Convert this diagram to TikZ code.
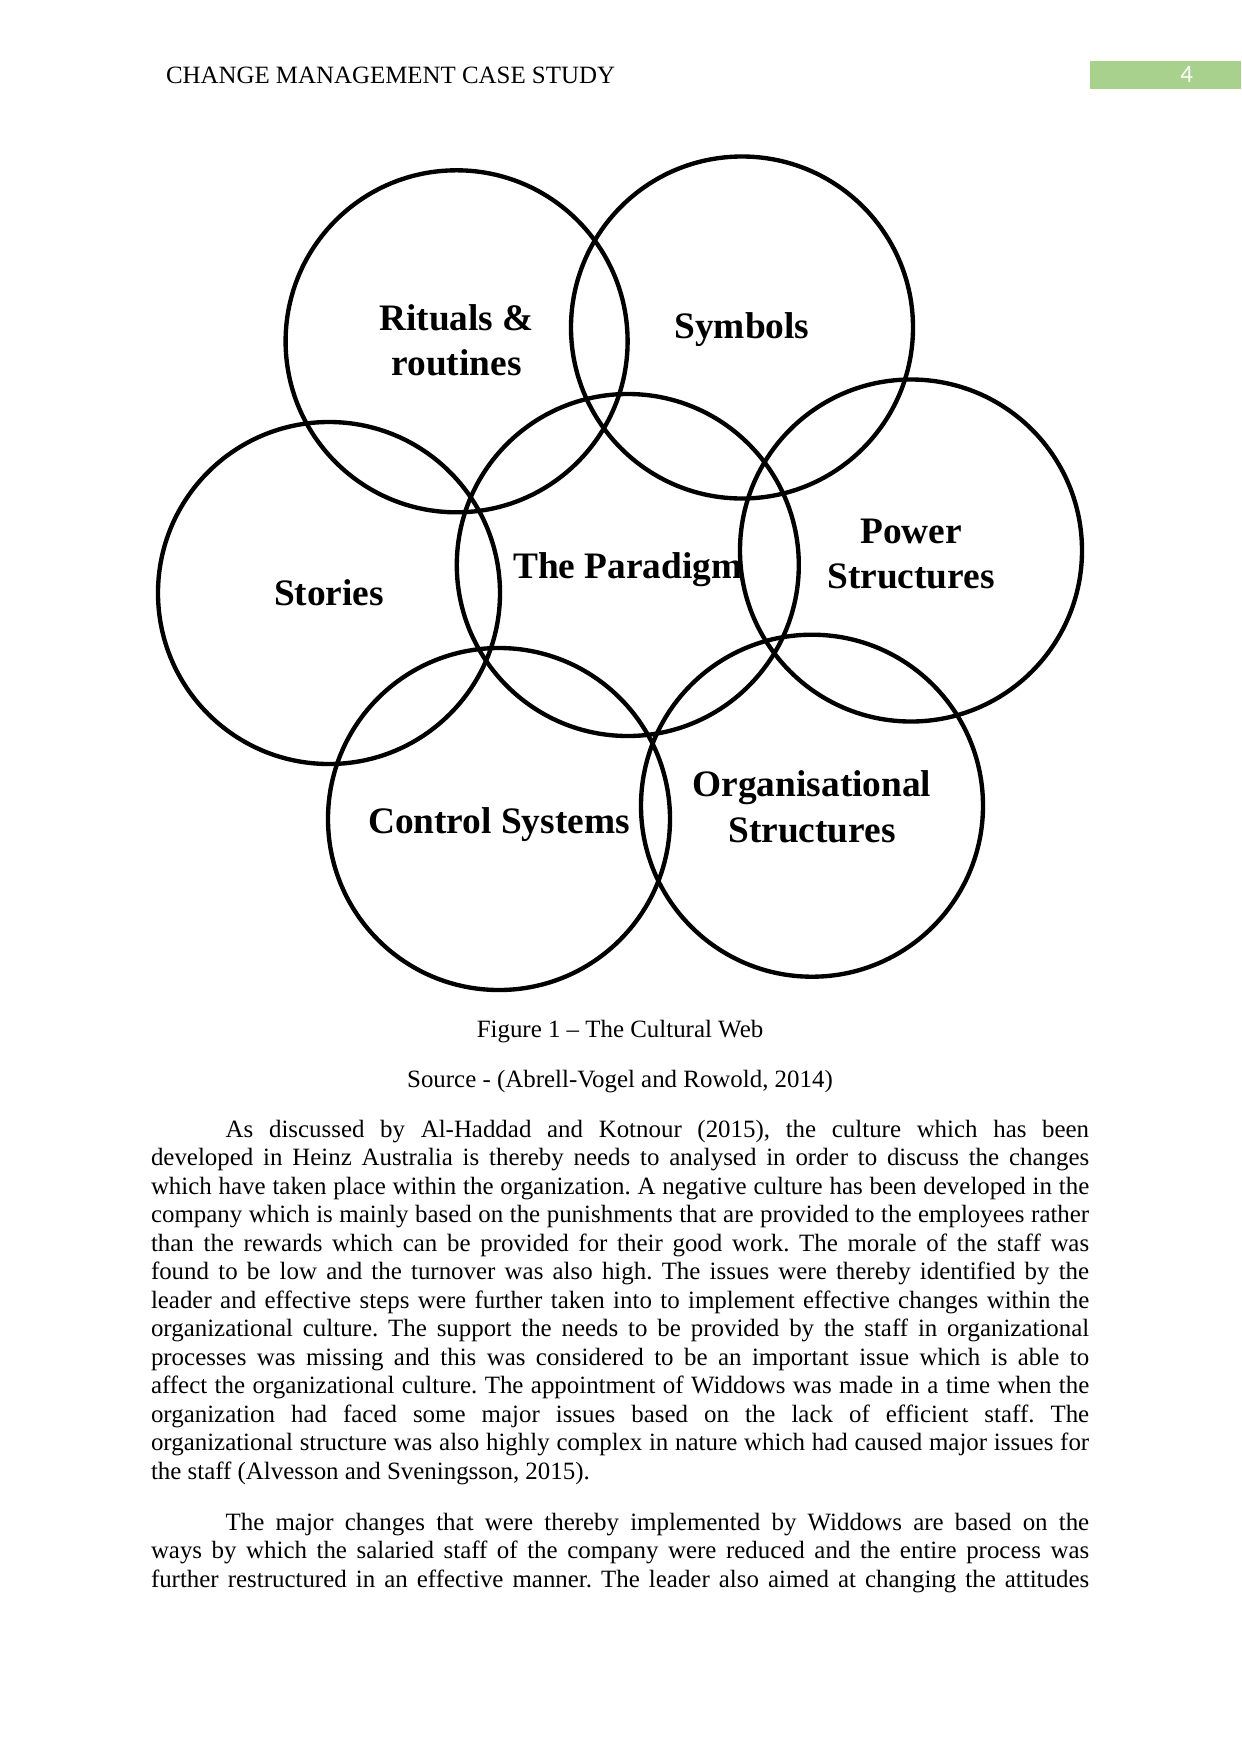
\documentclass[tikz,border=0pt]{standalone}
\usepackage{fontspec}
\setmainfont{Liberation Serif}
\newfontfamily\calib{Carlito}
\definecolor{hdrgreen}{HTML}{A9D18E}
\tikzset{
  web/.style={circle, draw=black, line width=2.1pt, minimum size=164.16bp, inner sep=0pt},
  lbl/.style={inner sep=0pt, align=center, font=\fontsize{18}{22}\selectfont\bfseries},
  txt/.style={inner sep=0pt, outer sep=0pt, font=\fontsize{12}{13.75}\selectfont}
}
\begin{document}
\begin{tikzpicture}[x=0.48bp, y=-0.48bp]
\useasboundingbox (0,0) rectangle (1241,1754);
% header
\node[txt, anchor=base west] (hdr) at (166,83.3) {CHANGE MANAGEMENT CASE STUDY};
\fill[hdrgreen] (1090,61) rectangle (1241,89);
\node[txt, anchor=base, text=white, font=\calib\fontsize{12}{14}\selectfont] (pg) at (1186.7,82.3) {4};
% cultural web
\node[web] (rit) at (456.6,341.3) {};
\node[web] (sym) at (742,327.5) {};
\node[web] (sto) at (329,593) {};
\node[web] (par) at (627.8,565) {};
\node[web] (pow) at (911,550.5) {};
\node[web] (con) at (499,819) {};
\node[web] (org) at (812,805.7) {};
\path (rit) ++(0,-1.1) node[lbl] (ritL) {Rituals \&\\routines};
\path (sym) ++(0,2.2) node[lbl] (symL) {Symbols};
\path (sto) ++(0,0) node[lbl] (stoL) {Stories};
\path (par) ++(0,4.5) node[lbl] (parL) {The Paradigm};
\path (pow) ++(0,3.4) node[lbl] (powL) {Power\\Structures};
\path (con) ++(0,5.6) node[lbl] (conL) {Control Systems};
\path (org) ++(0,1.1) node[lbl] (orgL) {Organisational\\Structures};
% captions
\node[txt, anchor=base] (fig) at (620,1037) {Figure 1 – The Cultural Web};
\node[txt, anchor=base] (src) at (620,1087) {Source - (Abrell-Vogel and Rowold, 2014)};
% body
\node[txt, anchor=base west, text width=452pt, align=justify] (body) at (151,1137) {%
\frenchspacing\hyphenpenalty=10000\exhyphenpenalty=10000\tolerance=9999\emergencystretch=20pt%
\hspace*{36pt}As discussed by Al-Haddad and Kotnour (2015), the culture which has been\linebreak
developed in Heinz Australia is thereby needs to analysed in order to discuss the changes\linebreak
which have taken place within the organization. A negative culture has been developed in the\linebreak
company which is mainly based on the punishments that are provided to the employees rather\linebreak
than the rewards which can be provided for their good work. The morale of the staff was\linebreak
found to be low and the turnover was also high. The issues were thereby identified by the\linebreak
leader and effective steps were further taken into to implement effective changes within the\linebreak
organizational culture. The support the needs to be provided by the staff in organizational\linebreak
processes was missing and this was considered to be an important issue which is able to\linebreak
affect the organizational culture. The appointment of Widdows was made in a time when the\linebreak
organization had faced some major issues based on the lack of efficient staff. The\linebreak
organizational structure was also highly complex in nature which had caused major issues for\linebreak
the staff (Alvesson and Sveningsson, 2015).\par
\vskip 10.73pt
\hspace*{36pt}The major changes that were thereby implemented by Widdows are based on the\linebreak
ways by which the salaried staff of the company were reduced and the entire process was\linebreak
further restructured in an effective manner. The leader also aimed at changing the attitudes\parfillskip=0pt\par};
\end{tikzpicture}
\end{document}
